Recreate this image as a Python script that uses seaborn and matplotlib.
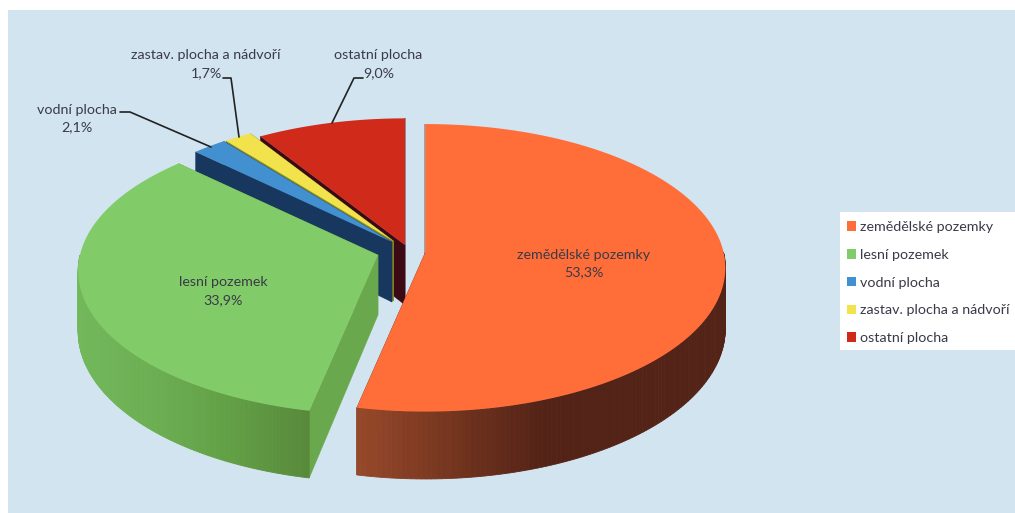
import numpy as np
import matplotlib
matplotlib.use("Agg")
import matplotlib.pyplot as plt
from matplotlib.patches import Polygon, Rectangle, Patch
import seaborn as sns

# Land use shares, in percent, clockwise from twelve o'clock
categories = ["zemědělské pozemky", "lesní pozemek", "vodní plocha",
              "zastav. plocha a nádvoří", "ostatní plocha"]
shares = [53.3, 33.9, 2.1, 1.7, 9.0]

sns.set_theme(style="white")
plt.rcParams["font.family"] = ["Lato", "DejaVu Sans"]

W, H = 1015, 513
top_colors = sns.color_palette(["#ff6d39", "#82cb69", "#4390d0", "#f2e34c", "#d02b1a"])
cut_colors = ["#7a3a1c", "#6aa84d", "#17375e", "#8c8c20", "#3b0a14"]
# Side wall shading, listed from the left end of each wall to its right end
wall_stops = {0: ["#96482a", "#74351e", "#542317", "#542317", "#542317"],
              1: ["#72b85a", "#6cae52", "#629f45", "#588a3a"]}
text_color = "#3a3a48"

# Projection of the tilted disc: pixel radii, thickness, perspective strength
RX, RY, DEPTH, PERSP = 298.0, 142.0, 60.0, 0.11
# Where each exploded slice has its tip on the canvas, and its relative radius
tips = [(425.5, 252), (378, 255), (392, 242), (393.5, 241), (405, 245)]
radius_scale = [1.0, 1.0, 0.985, 0.98, 0.99]


def rim(tip, theta, scale=1.0, lower=False):
    """Screen position of the disc edge at a clockwise angle in degrees."""
    u, v = np.sin(np.radians(theta)), np.cos(np.radians(theta))
    s = 1.0 / (1.0 + PERSP * v)
    z = DEPTH if lower else 0.0
    return tip[0] + scale * RX * u * s, tip[1] - scale * RY * v * s + z * s


fig = plt.figure(figsize=(W / 100, H / 100), dpi=100, facecolor="white")
ax = fig.add_axes([0, 0, 1, 1])
ax.set_xlim(0, W)
ax.set_ylim(H, 0)
ax.axis("off")
ax.add_patch(Rectangle((8, 10), W - 8, H - 10, fc="#d2e4f0", ec="none", zorder=0))

edges = np.concatenate([[0.0], np.cumsum(shares)]) * 3.6
# Back slices first so that nearer ones overlap them
z = 1
for i in [4, 3, 2, 1, 0]:
    tip, a0, a1, sc = tips[i], edges[i], edges[i + 1], radius_scale[i]
    for a in (a0, a1):
        face = [tip, rim(tip, a, sc), rim(tip, a, sc, True), (tip[0], tip[1] + DEPTH)]
        ax.add_patch(Polygon(face, fc=cut_colors[i], ec=cut_colors[i], lw=0.3, zorder=z))
    z += 1
    lo, hi = max(a0, 90.0), min(a1, 270.0)
    if i in wall_stops and hi > lo:
        steps = np.linspace(lo, hi, 120)
        xs = np.array([rim(tip, a, sc)[0] for a in steps])
        shades = sns.blend_palette(wall_stops[i], 64)
        for k in range(len(steps) - 1):
            # Shading follows the horizontal position along the wall
            frac = (0.5 * (xs[k] + xs[k + 1]) - xs.min()) / (xs.max() - xs.min())
            shade = shades[min(int(frac * 64), 63)]
            quad = [rim(tip, steps[k], sc), rim(tip, steps[k + 1], sc),
                    rim(tip, steps[k + 1], sc, True), rim(tip, steps[k], sc, True)]
            ax.add_patch(Polygon(quad, fc=shade, ec=shade, lw=0.6, zorder=z))
    z += 1
    arc = [rim(tip, a, sc) for a in np.linspace(a0, a1, 160)]
    ax.add_patch(Polygon([tip] + arc, fc=top_colors[i], ec="none", zorder=z))
    z += 1

percent = [f"{v:.1f}".replace(".", ",") + "%" for v in shares]
label_pos = [(584, 263.5), (223, 291), (77, 118.5), (206, 64), (378.5, 64)]
for name, pct, (x, y) in zip(categories, percent, label_pos):
    ax.text(x, y, f"{name}\n{pct}", ha="center", va="center", fontsize=10.3,
            color=text_color, linespacing=1.55, zorder=40)

# Leader lines from the outer labels to their slices
leaders = [[(120, 112), (130, 112), (211, 147)],
           [(223, 78), (231, 78), (239, 137)],
           [(363, 78), (354, 78), (332, 123)]]
for path in leaders:
    xs, ys = zip(*path)
    ax.plot(xs, ys, color="#222222", lw=1.2, zorder=41)

# Legend panel runs to the right edge of the canvas
ax.add_patch(Rectangle((840, 212), W - 840, 138, fc="white", ec="none", zorder=45))
handles = [Patch(fc=c, ec="none", label=n) for c, n in zip(top_colors, categories)]
leg = ax.legend(handles=handles, loc="upper left", bbox_to_anchor=(840, 214),
                bbox_transform=ax.transData, frameon=False, fontsize=10.3,
                handlelength=0.65, handleheight=0.65, handletextpad=0.26,
                labelspacing=1.1, borderpad=0.5, borderaxespad=0, labelcolor=text_color)
leg.set_zorder(50)

fig.savefig("out.png", dpi=100, facecolor="white")
